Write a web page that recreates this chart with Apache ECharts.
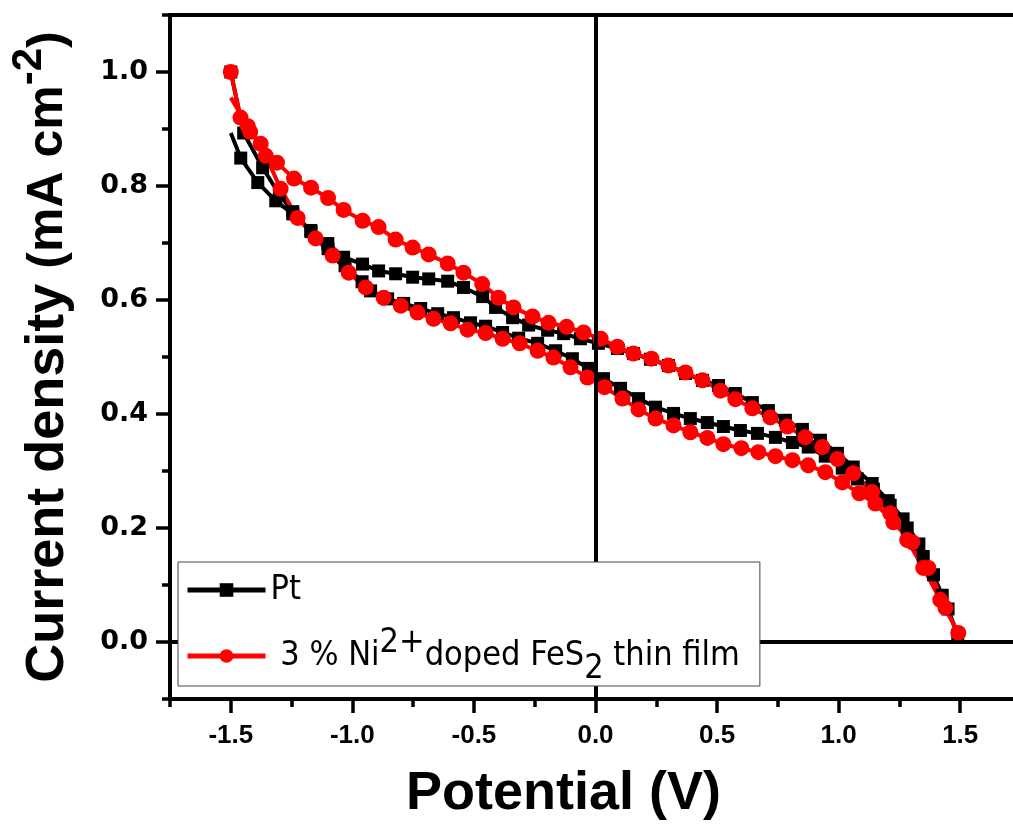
<!DOCTYPE html>
<html>
<head>
<meta charset="utf-8">
<title>Current density vs potential</title>
<script src="https://cdn.jsdelivr.net/npm/echarts@6/dist/echarts.min.js"></script>
<style>
  html, body { margin: 0; padding: 0; background: #fff; }
  #chart { width: 1013px; height: 825px; }
</style>
</head>
<body>
<div id="chart"></div>
<script>
// Pt: forward scan then return scan
const ptPotential = [
  -1.5, -1.447, -1.369, -1.3, -1.245, -1.17, -1.1, -1.03, -0.96, -0.925, -0.855, -0.789, -0.719,
  -0.649, -0.584, -0.514, -0.452, -0.382, -0.316, -0.238, -0.164, -0.095, -0.029, 0.033, 0.103,
  0.177, 0.247, 0.321, 0.39, 0.46, 0.526, 0.596, 0.666, 0.74, 0.81, 0.875, 0.945, 1.015, 1.077,
  1.143, 1.212, 1.282, 1.348, 1.426, 1.49,
  1.45, 1.39, 1.33, 1.265, 1.204, 1.138, 1.06, 0.995, 0.925, 0.851, 0.781, 0.711, 0.645, 0.575,
  0.506, 0.44, 0.37, 0.3, 0.226, 0.156, 0.09, 0.012, -0.062, -0.131, -0.197, -0.275, -0.341,
  -0.411, -0.464, -0.543, -0.608, -0.686, -0.752, -0.822, -0.892, -0.958, -1.036, -1.101, -1.171,
  -1.245, -1.315, -1.389, -1.459, -1.5
];
const ptCurrent = [
  1.0, 0.893, 0.832, 0.785, 0.755, 0.72, 0.69, 0.66, 0.632, 0.616, 0.602, 0.594, 0.585,
  0.576, 0.569, 0.56, 0.554, 0.543, 0.533, 0.524, 0.511, 0.497, 0.48, 0.462, 0.445,
  0.427, 0.412, 0.401, 0.392, 0.385, 0.378, 0.371, 0.366, 0.359, 0.35, 0.342, 0.326, 0.305, 0.286,
  0.268, 0.24, 0.2, 0.15, 0.082, 0.012,
  0.058, 0.118, 0.172, 0.216, 0.248, 0.278, 0.307, 0.331, 0.354, 0.373, 0.389, 0.406, 0.42, 0.436,
  0.45, 0.459, 0.471, 0.485, 0.496, 0.506, 0.515, 0.524, 0.532, 0.541, 0.547, 0.556, 0.569,
  0.587, 0.606, 0.622, 0.633, 0.637, 0.64, 0.646, 0.651, 0.663, 0.675, 0.699, 0.722,
  0.751, 0.774, 0.806, 0.849, 0.893
];

// 3 % Ni2+ doped FeS2: forward scan then return scan
const niPotential = [
  -1.5, -1.46, -1.42, -1.377, -1.31, -1.24, -1.17, -1.1, -1.036, -0.958, -0.892, -0.822, -0.752,
  -0.686, -0.608, -0.543, -0.466, -0.399, -0.337, -0.259, -0.193, -0.119, -0.049, 0.021, 0.09,
  0.156, 0.23, 0.3, 0.37, 0.44, 0.514, 0.575, 0.645, 0.719, 0.789, 0.863, 0.933, 0.995, 1.06,
  1.138, 1.212, 1.282, 1.348, 1.418, 1.492,
  1.439, 1.369, 1.303, 1.225, 1.151, 1.085, 1.015, 0.945, 0.875, 0.81, 0.74, 0.67, 0.6, 0.526,
  0.46, 0.39, 0.321, 0.247, 0.177, 0.111, 0.037, -0.033, -0.103, -0.173, -0.238, -0.312, -0.382,
  -0.452, -0.526, -0.596, -0.666, -0.732, -0.801, -0.871, -0.945, -1.015, -1.081, -1.151, -1.225,
  -1.295, -1.356, -1.43, -1.5
];
const niCurrent = [
  1.0, 0.92, 0.895, 0.874, 0.841, 0.813, 0.797, 0.779, 0.758, 0.739, 0.728, 0.706, 0.692,
  0.68, 0.664, 0.648, 0.628, 0.604, 0.587, 0.571, 0.56, 0.553, 0.543, 0.532, 0.518,
  0.506, 0.497, 0.485, 0.473, 0.459, 0.441, 0.426, 0.41, 0.394, 0.378, 0.359, 0.342, 0.321, 0.296,
  0.263, 0.226, 0.179, 0.13, 0.074, 0.016,
  0.06, 0.13, 0.175, 0.21, 0.243, 0.261, 0.28, 0.298, 0.31, 0.319, 0.326, 0.333, 0.34, 0.347,
  0.358, 0.368, 0.38, 0.392, 0.408, 0.427, 0.447, 0.464, 0.482, 0.499, 0.511, 0.524, 0.532,
  0.542, 0.548, 0.559, 0.567, 0.578, 0.59, 0.604, 0.622, 0.648, 0.678, 0.708, 0.744,
  0.795, 0.853, 0.905, 0.955
];

const xMajorTicks = [-1.5, -1.0, -0.5, 0.0, 0.5, 1.0, 1.5];
const xMinorTicks = [-1.75, -1.25, -0.75, -0.25, 0.25, 0.75, 1.25];
const yMajorTicks = [0.0, 0.2, 0.4, 0.6, 0.8, 1.0];
const yMinorTicks = [-0.1, 0.1, 0.3, 0.5, 0.7, 0.9, 1.1];

const ptName = 'Pt';
const niName = '3 % Ni2+doped FeS2 thin film';

// the scan's closing point carries no marker, only the line runs to it
const pair = (xs, ys) =>
  xs.map((x, i) => (i === xs.length - 1 ? { value: [x, ys[i]], symbol: 'none' } : [x, ys[i]]));

const boldFont = '"Liberation Sans", Arial, sans-serif';
const wideBold = '"DejaVu Sans", Verdana, sans-serif';
const narrowFont = '"Liberation Sans Narrow", "DejaVu Sans Condensed", "Liberation Sans", sans-serif';

const chart = echarts.init(document.getElementById('chart'));

const baseX = { type: 'value', min: -1.75, max: 1.75, splitLine: { show: false } };
const baseY = { type: 'value', min: -0.1, max: 1.1, splitLine: { show: false } };
const axisLine = { show: true, onZero: false, lineStyle: { color: '#000', width: 4 } };
const noLine = { show: false, onZero: false };
const tickStyle = { color: '#000', width: 3.5 };

const option = {
  animation: false,
  backgroundColor: '#fff',
  grid: { left: 170, right: -8, top: 15, bottom: 126, outerBoundsMode: 'none' },
  xAxis: [
    {
      ...baseX,
      position: 'bottom',
      axisLine: axisLine,
      axisTick: { show: true, customValues: xMajorTicks, length: 14, lineStyle: tickStyle },
      axisLabel: {
        customValues: xMajorTicks,
        formatter: (v) => v.toFixed(1),
        margin: 24,
        color: '#000',
        fontSize: 26,
        fontWeight: 'bold',
        fontFamily: boldFont,
      },
      name: 'Potential (V)',
      nameLocation: 'middle',
      nameGap: 68,
      nameTextStyle: {
        color: '#000',
        fontSize: 54,
        fontWeight: 'bold',
        fontFamily: boldFont,
        padding: [0, 64, 0, 0],
      },
    },
    {
      ...baseX,
      position: 'bottom',
      axisLine: noLine,
      axisTick: { show: true, customValues: xMinorTicks, length: 8, lineStyle: tickStyle },
      axisLabel: { show: false },
    },
    {
      ...baseX,
      position: 'top',
      axisLine: axisLine,
      axisTick: { show: false },
      axisLabel: { show: false },
    },
  ],
  yAxis: [
    {
      ...baseY,
      position: 'left',
      axisLine: axisLine,
      axisTick: { show: true, customValues: yMajorTicks, length: 14, lineStyle: tickStyle },
      axisLabel: {
        customValues: yMajorTicks,
        formatter: (v) => v.toFixed(1),
        margin: 22,
        color: '#000',
        fontSize: 27,
        fontWeight: 'bold',
        fontFamily: wideBold,
      },
      name: '{a|Current density }{b|(mA cm}{s|-2}{b|)}',
      nameLocation: 'middle',
      nameRotate: 90,
      nameGap: 82,
      nameTextStyle: {
        color: '#000',
        fontWeight: 'bold',
        fontFamily: boldFont,
        rich: {
          a: { fontSize: 54, fontWeight: 'bold', fontFamily: boldFont, color: '#000', lineHeight: 80 },
          b: { fontSize: 50, fontWeight: 'bold', fontFamily: boldFont, color: '#000', lineHeight: 80 },
          s: { fontSize: 42, fontWeight: 'bold', fontFamily: boldFont, color: '#000', lineHeight: 40, verticalAlign: 'top' },
        },
      },
    },
    {
      ...baseY,
      position: 'left',
      axisLine: noLine,
      axisTick: { show: true, customValues: yMinorTicks, length: 8, lineStyle: tickStyle },
      axisLabel: { show: false },
    },
  ],
  legend: {
    data: [ptName, niName],
    orient: 'vertical',
    left: 178,
    top: 562,
    z: 10,
    itemWidth: 78,
    itemHeight: 17,
    itemGap: 19,
    padding: [11, 20, 0, 7],
    backgroundColor: '#fff',
    borderColor: '#444',
    borderWidth: 1,
    borderRadius: 0,
    selectedMode: false,
    lineStyle: { width: 5 },
    formatter: (name) =>
      name === ptName ? '{p|Pt}' : '{t| 3 % Ni}{sup|2+}{t|doped FeS}{sub|2}{t| thin film}',
    textStyle: {
      color: '#000',
      fontSize: 34,
      fontFamily: narrowFont,
      rich: {
        p: { fontSize: 34, fontFamily: narrowFont, color: '#000', lineHeight: 52 },
        t: { fontSize: 34, fontFamily: narrowFont, color: '#000', lineHeight: 60 },
        sup: { fontSize: 34, fontFamily: narrowFont, color: '#000', lineHeight: 32, verticalAlign: 'top' },
        sub: { fontSize: 34, fontFamily: narrowFont, color: '#000', lineHeight: 32, verticalAlign: 'bottom' },
      },
    },
  },
  series: [
    {
      name: ptName,
      type: 'line',
      data: pair(ptPotential, ptCurrent),
      symbol: 'rect',
      symbolSize: 13,
      lineStyle: { color: '#000', width: 4 },
      itemStyle: { color: '#000' },
      emphasis: { disabled: true },
      markLine: {
        silent: true,
        symbol: ['none', 'none'],
        label: { show: false },
        lineStyle: { color: '#000', width: 4, type: 'solid' },
        emphasis: { disabled: true },
        data: [{ xAxis: 0 }, { yAxis: 0 }],
      },
    },
    {
      name: niName,
      type: 'line',
      data: pair(niPotential, niCurrent),
      symbol: 'circle',
      symbolSize: 16,
      lineStyle: { color: '#ff0000', width: 4 },
      itemStyle: { color: '#ff0000' },
      emphasis: { disabled: true },
    },
  ],
};

chart.setOption(option);
window.addEventListener('resize', () => chart.resize());
</script>
</body>
</html>
